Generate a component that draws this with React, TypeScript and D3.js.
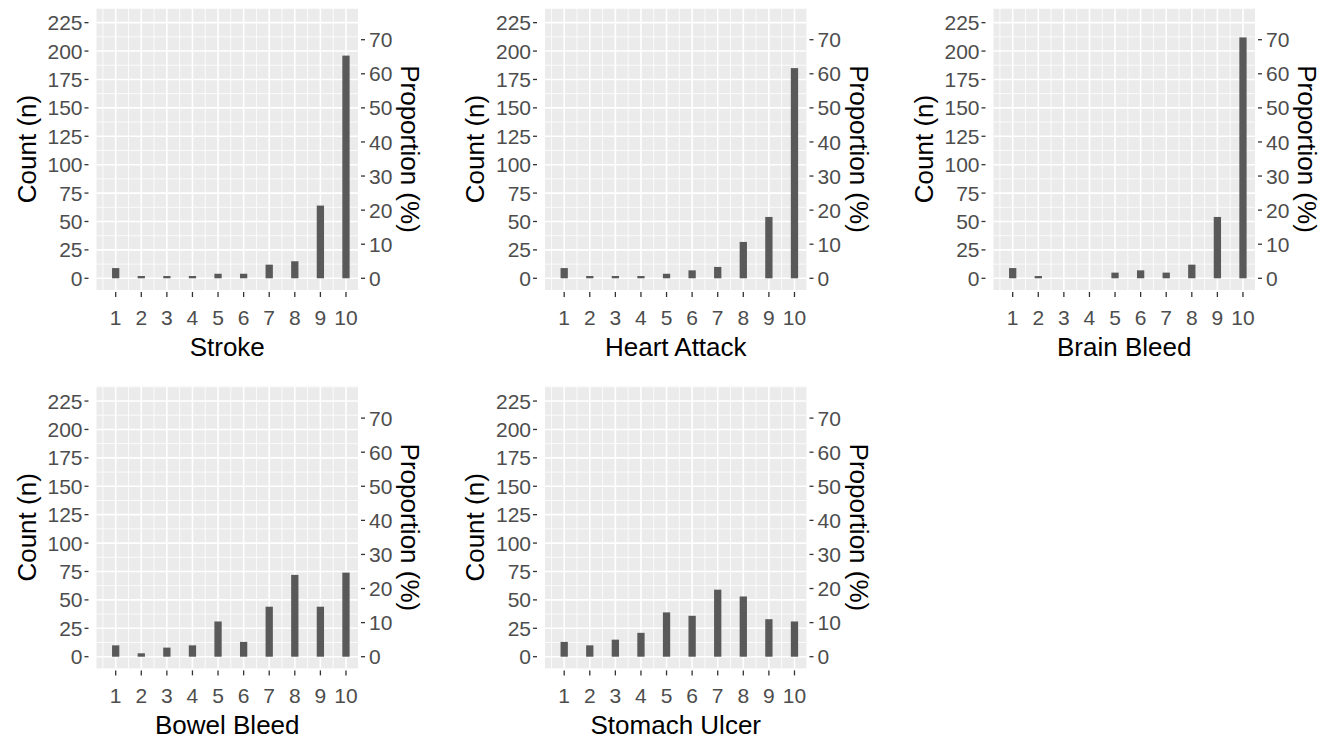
import React from "react";
import * as d3 from "d3";

const outcomes = ["Stroke", "Heart Attack", "Brain Bleed", "Bowel Bleed", "Stomach Ulcer"];
const scores = [1, 2, 3, 4, 5, 6, 7, 8, 9, 10];
const strokeCounts = [9, 2, 2, 2, 4, 4, 12, 15, 64, 196];
const heartAttackCounts = [9, 2, 2, 2, 4, 7, 10, 32, 54, 185];
const brainBleedCounts = [9, 2, 0, 0, 5, 7, 5, 12, 54, 212];
const bowelBleedCounts = [10, 3, 8, 10, 31, 13, 44, 72, 44, 74];
const stomachUlcerCounts = [13, 10, 15, 21, 39, 36, 59, 53, 33, 31];
const seriesCounts = [strokeCounts, heartAttackCounts, brainBleedCounts, bowelBleedCounts, stomachUlcerCounts];
const countTicks = [0, 25, 50, 75, 100, 125, 150, 175, 200, 225];
const propTicks = [0, 10, 20, 30, 40, 50, 60, 70];
const totalN = 300;

const FONT = "'Liberation Sans', Arial, Helvetica, sans-serif";
const PANEL_W = 261.5;
const PANEL_H = 282;
const COL_X = [96.5, 545, 993.5];
const ROW_Y = [8, 386.4];

function Panel({ title, counts, left, top }: { title: string; counts: number[]; left: number; top: number }) {
  const x = d3.scaleLinear().domain([0.25, 10.47]).range([left, left + PANEL_W]);
  const y = d3.scaleLinear().domain([-10.3, 237.9]).range([top + PANEL_H, top]);
  const yProp = d3.scaleLinear().domain([(-10.3 / totalN) * 100, (237.9 / totalN) * 100]).range([top + PANEL_H, top]);
  const barW = 0.285;
  const bottom = top + PANEL_H;
  const right = left + PANEL_W;
  const xGridMinor = d3.range(0.5, 10.51, 1);
  const yGridMinor = d3.range(12.5, 238, 25);
  const cx = (left + right) / 2;
  const cy = (top + bottom) / 2;
  return (
    <g>
      <rect x={left} y={top} width={PANEL_W} height={PANEL_H} fill="#EBEBEB" />
      {yGridMinor.map((v) => (
        <line key={"ym" + v} x1={left} x2={right} y1={y(v)} y2={y(v)} stroke="#fff" strokeWidth={0.8} />
      ))}
      {xGridMinor.map((v) => (
        <line key={"xm" + v} x1={x(v)} x2={x(v)} y1={top} y2={bottom} stroke="#fff" strokeWidth={0.8} />
      ))}
      {countTicks.map((v) => (
        <line key={"yM" + v} x1={left} x2={right} y1={y(v)} y2={y(v)} stroke="#fff" strokeWidth={1.6} />
      ))}
      {scores.map((v) => (
        <line key={"xM" + v} x1={x(v)} x2={x(v)} y1={top} y2={bottom} stroke="#fff" strokeWidth={1.6} />
      ))}
      {scores.map((s, i) =>
        counts[i] > 0 ? (
          <rect
            key={"b" + s}
            x={x(s - barW / 2)}
            y={y(counts[i])}
            width={x(s + barW / 2) - x(s - barW / 2)}
            height={y(0) - y(counts[i])}
            fill="#595959"
          />
        ) : null
      )}
      {/* left axis */}
      {countTicks.map((v) => (
        <g key={"lt" + v}>
          <line x1={left - 12} x2={left - 8} y1={y(v)} y2={y(v)} stroke="#333" strokeWidth={1.3} />
          <text x={left - 14} y={y(v)} dy="0.36em" textAnchor="end" fontSize={21} fill="#4D4D4D" fontFamily={FONT}>
            {v}
          </text>
        </g>
      ))}
      {/* right axis */}
      {propTicks.map((v) => (
        <g key={"rt" + v}>
          <line x1={right + 3} x2={right + 7} y1={yProp(v)} y2={yProp(v)} stroke="#333" strokeWidth={1.3} />
          <text x={right + 11} y={yProp(v)} dy="0.36em" textAnchor="start" fontSize={21} fill="#4D4D4D" fontFamily={FONT}>
            {v}
          </text>
        </g>
      ))}
      {/* bottom axis */}
      {scores.map((v) => (
        <g key={"bt" + v}>
          <line x1={x(v)} x2={x(v)} y1={bottom + 2} y2={bottom + 7} stroke="#333" strokeWidth={1.3} />
          <text x={x(v)} y={bottom + 35} textAnchor="middle" fontSize={21} fill="#4D4D4D" fontFamily={FONT}>
            {v}
          </text>
        </g>
      ))}
      <text x={cx} y={bottom + 66} textAnchor="middle" fontSize={26} fill="#000" fontFamily={FONT}>
        {title}
      </text>
      <text
        transform={`translate(${left - 61},${cy}) rotate(-90)`}
        textAnchor="middle"
        fontSize={26}
        fill="#000"
        fontFamily={FONT}
      >
        Count (n)
      </text>
      <text
        transform={`translate(${right + 43},${cy}) rotate(90)`}
        textAnchor="middle"
        fontSize={26}
        fill="#000"
        fontFamily={FONT}
      >
        Proportion (%)
      </text>
    </g>
  );
}

export default function App() {
  return (
    <svg
      width={1326}
      height={740}
      style={{ position: "fixed", left: 0, top: 0, background: "#fff" }}
      xmlns="http://www.w3.org/2000/svg"
    >
      <rect x={0} y={0} width={1326} height={740} fill="#fff" />
      {outcomes.map((o, i) => (
        <Panel key={o} title={o} counts={seriesCounts[i]} left={COL_X[i % 3]} top={ROW_Y[Math.floor(i / 3)]} />
      ))}
    </svg>
  );
}
